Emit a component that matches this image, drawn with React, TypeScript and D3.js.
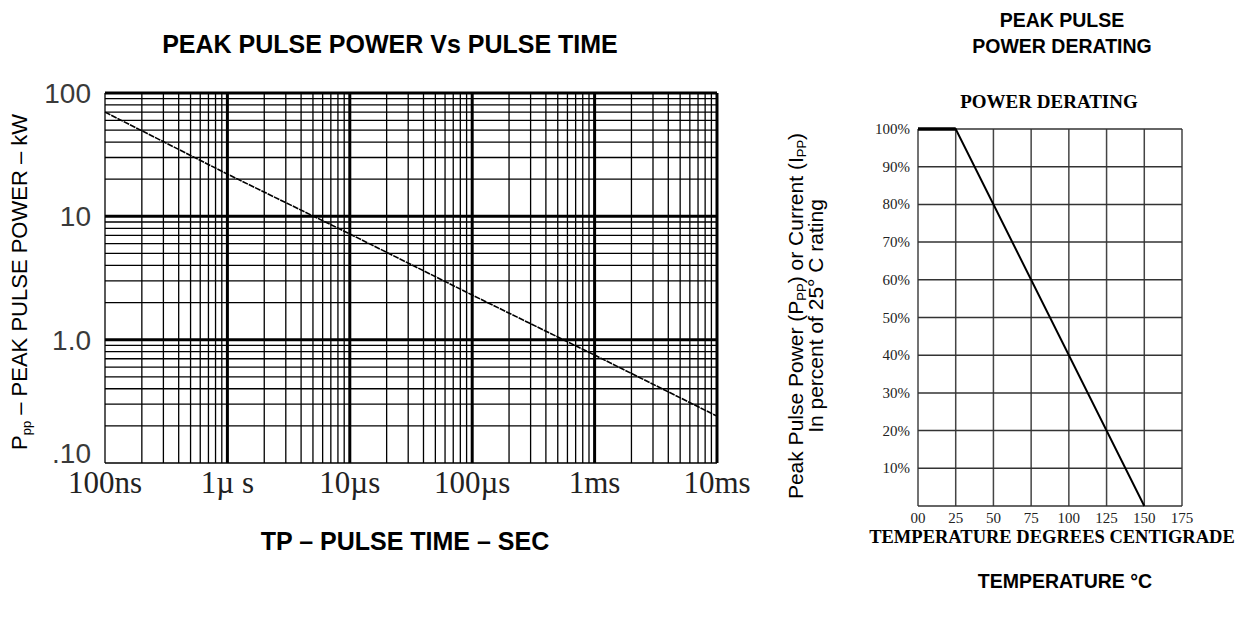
import React from "react";
import * as d3 from "d3";

// left chart: peak pulse power vs pulse time (log-log)
const pulseTimes = [1e-7, 1e-6, 1e-5, 1e-4, 1e-3, 1e-2];
const peakPowerKW = [70, 22, 7.2, 2.3, 0.75, 0.24];
const timeTickValues = [1e-7, 1e-6, 1e-5, 1e-4, 1e-3, 1e-2];
const timeTickLabels = ["100ns", "1\u00b5 s", "10\u00b5s", "100\u00b5s", "1ms", "10ms"];
const powerTickValues = [100, 10, 1, 0.1];
const powerTickLabels = ["100", "10", "1.0", ".10"];

// right chart: derating curve
const temps = [0, 25, 150];
const derating = [100, 100, 0];
const tempTicks = [0, 25, 50, 75, 100, 125, 150, 175];
const tempTickLabels = ["00", "25", "50", "75", "100", "125", "150", "175"];
const pctTicks = [100, 90, 80, 70, 60, 50, 40, 30, 20, 10];

const W = 1258;
const H = 617;

const sans = "'Liberation Sans', Arial, sans-serif";
const serif = "'Liberation Serif', 'Times New Roman', serif";

const PulseChart = () => {
  const x = d3.scaleLog().domain([1e-7, 1e-2]).range([105, 717]);
  const y = d3.scaleLog().domain([0.1, 100]).range([463, 93]);

  const xGrid = x.ticks();
  const yGrid = y.ticks();
  // decade lines are drawn heavy, except the lower-left edge
  const isMajor = (v: number, min: number) => {
    const r = v / Math.pow(10, Math.floor(Math.log10(v) + 1e-9));
    return Math.abs(r - 1) < 1e-6 && Math.abs(v - min) > min * 1e-6;
  };

  const line = d3
    .line<number>()
    .x((d, i) => x(pulseTimes[i]))
    .y((d) => y(d));

  return (
    <g>
      <text x={390} y={53} textAnchor="middle" fontFamily={sans} fontWeight="bold" fontSize={25}>
        PEAK PULSE POWER Vs PULSE TIME
      </text>

      {yGrid.map((v, i) => (
        <line
          key={"y" + i}
          x1={x.range()[0]}
          x2={x.range()[1]}
          y1={y(v)}
          y2={y(v)}
          stroke="#000"
          strokeWidth={isMajor(v, 0.1) ? 3 : 1.3}
        />
      ))}
      {xGrid.map((v, i) => (
        <line
          key={"x" + i}
          x1={x(v)}
          x2={x(v)}
          y1={y.range()[0]}
          y2={y.range()[1]}
          stroke="#000"
          strokeWidth={isMajor(v, 1e-7) ? 3 : 1.3}
        />
      ))}

      <path d={line(peakPowerKW) || ""} fill="none" stroke="#000" strokeWidth={1.6} strokeDasharray="6 1" />

      {powerTickValues.map((v, i) => (
        <text
          key={"yl" + i}
          x={91}
          y={Math.min(y(v) + 10, y.range()[0])}
          textAnchor="end"
          fontFamily={sans}
          fontSize={28}
          fill="#3a3a3a"
        >
          {powerTickLabels[i]}
        </text>
      ))}
      {timeTickValues.map((v, i) => (
        <text
          key={"xl" + i}
          x={x(v)}
          y={493}
          textAnchor="middle"
          fontFamily={serif}
          fontSize={31}
          fill="#222"
        >
          {timeTickLabels[i]}
        </text>
      ))}

      <text
        transform="translate(27,282) rotate(-90)"
        textAnchor="middle"
        fontFamily={sans}
        fontSize={22}
      >
        P<tspan fontSize={13} dy={4}>pp</tspan>
        <tspan dy={-4}> – PEAK PULSE POWER  – kW</tspan>
      </text>

      <text x={405} y={550} textAnchor="middle" fontFamily={sans} fontWeight="bold" fontSize={25}>
        TP – PULSE TIME – SEC
      </text>
    </g>
  );
};

const DeratingChart = () => {
  const x = d3.scaleLinear().domain([0, 175]).range([918, 1182]);
  const y = d3.scaleLinear().domain([0, 100]).range([506, 129]);

  const line = d3
    .line<number>()
    .x((d, i) => x(temps[i]))
    .y((d) => y(d));

  return (
    <g>
      <text x={1062} y={27} textAnchor="middle" fontFamily={sans} fontWeight="bold" fontSize={19.5}>
        PEAK PULSE
      </text>
      <text x={1062} y={53} textAnchor="middle" fontFamily={sans} fontWeight="bold" fontSize={19.5}>
        POWER DERATING
      </text>

      <text x={1049} y={108} textAnchor="middle" fontFamily={serif} fontWeight="bold" fontSize={19}>
        POWER DERATING
      </text>

      {tempTicks.map((t, i) => (
        <line key={"vx" + i} x1={x(t)} x2={x(t)} y1={y(0)} y2={y(100)} stroke="#444" strokeWidth={1.5} />
      ))}
      {[0, ...pctTicks].map((p, i) => (
        <line key={"hy" + i} x1={x(0)} x2={x(175)} y1={y(p)} y2={y(p)} stroke="#333" strokeWidth={1.5} />
      ))}

      <line x1={x(temps[0])} x2={x(temps[1])} y1={y(derating[0])} y2={y(derating[1])} stroke="#000" strokeWidth={3.5} />
      <path d={line(derating) || ""} fill="none" stroke="#000" strokeWidth={2} />

      {pctTicks.map((p, i) => (
        <text key={"pl" + i} x={910} y={y(p) + 5} textAnchor="end" fontFamily={serif} fontSize={15} fill="#222">
          {p}%
        </text>
      ))}
      {tempTicks.map((t, i) => (
        <text key={"tl" + i} x={x(t)} y={523} textAnchor="middle" fontFamily={serif} fontSize={15} fill="#222">
          {tempTickLabels[i]}
        </text>
      ))}

      <text x={1052} y={543} textAnchor="middle" fontFamily={serif} fontWeight="bold" fontSize={18.5}>
        TEMPERATURE DEGREES CENTIGRADE
      </text>

      <text transform="translate(803,316) rotate(-90)" textAnchor="middle" fontFamily={sans} fontSize={21}>
        Peak Pulse Power (P<tspan fontSize={13} dy={3}>PP</tspan>
        <tspan dy={-3}>) or Current (I</tspan>
        <tspan fontSize={13} dy={3}>PP</tspan>
        <tspan dy={-3}>)</tspan>
      </text>
      <text transform="translate(823,316) rotate(-90)" textAnchor="middle" fontFamily={sans} fontSize={21}>
        In percent of 25° C rating
      </text>

      <text x={1065} y={588} textAnchor="middle" fontFamily={sans} fontWeight="bold" fontSize={19.5}>
        TEMPERATURE °C
      </text>
    </g>
  );
};

export default function App() {
  return (
    <svg
      width={W}
      height={H}
      style={{ position: "absolute", left: 0, top: 0, background: "#fff" }}
    >
      <rect width={W} height={H} fill="#fff" />
      <PulseChart />
      <DeratingChart />
    </svg>
  );
}
